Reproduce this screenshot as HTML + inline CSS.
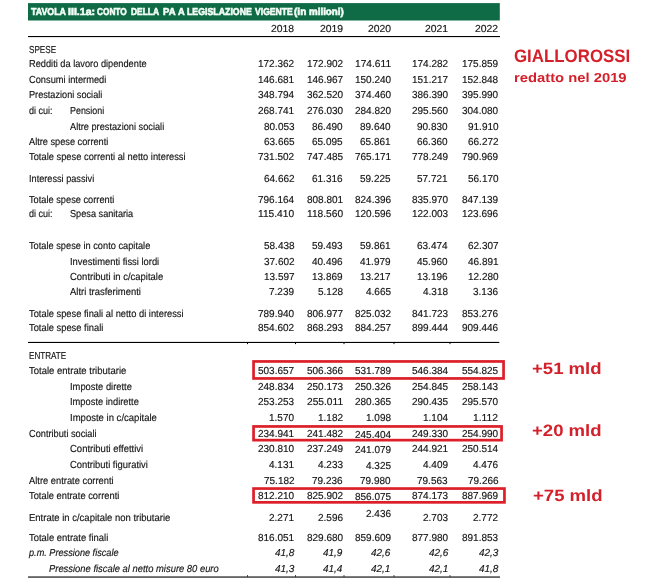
<!DOCTYPE html><html><head><meta charset='utf-8'><title>Tavola III.1a</title><style>

html,body{margin:0;padding:0;background:#fff;}
body{width:671px;height:579px;position:relative;overflow:hidden;font-family:"Liberation Sans",sans-serif;text-rendering:geometricPrecision;}
.t{position:absolute;white-space:nowrap;line-height:1;transform-origin:0 0;display:block;}
.b{font-weight:bold;}
.l,.li,.n,.ni{-webkit-text-stroke:0.16px currentColor;}
.b{-webkit-text-stroke:0;}
.h{-webkit-text-stroke:0.6px currentColor;}
.li,.ni{font-style:italic;}
.r{position:absolute;}
#w{position:absolute;left:0;top:0;width:671px;height:579px;will-change:transform;}

</style></head><body><div id='w'>
<svg class='r' style='left:0;top:0' width='671' height='579' viewBox='0 0 671 579'><rect x='28' y='3.1' width='471.8' height='17.4' fill='#0f6b46'/><rect x='28' y='36.0' width='472.0' height='1.1' fill='#000'/><rect x='28' y='341.9' width='471.3' height='1.1' fill='#000'/><rect x='28' y='576.5' width='472.0' height='1.1' fill='#000'/><rect x='247.0' y='342.9' width='1' height='1.2' fill='#000'/><rect x='247.0' y='575.3' width='1' height='1.3' fill='#000'/><rect x='295.0' y='342.9' width='1' height='1.2' fill='#000'/><rect x='295.0' y='575.3' width='1' height='1.3' fill='#000'/><rect x='343.5' y='342.9' width='1' height='1.2' fill='#000'/><rect x='343.5' y='575.3' width='1' height='1.3' fill='#000'/><rect x='393.5' y='342.9' width='1' height='1.2' fill='#000'/><rect x='393.5' y='575.3' width='1' height='1.3' fill='#000'/><rect x='449.5' y='342.9' width='1' height='1.2' fill='#000'/><rect x='449.5' y='575.3' width='1' height='1.3' fill='#000'/><rect x='253.55' y='361.45' width='250.00' height='17.00' fill='none' stroke='#dc1f28' stroke-width='2.7'/><rect x='253.55' y='426.45' width='248.00' height='13.70' fill='none' stroke='#dc1f28' stroke-width='2.7'/><rect x='253.55' y='488.55' width='250.90' height='13.80' fill='none' stroke='#dc1f28' stroke-width='2.7'/></svg>
<span class='t l' style='left:29.4px;top:46px;font-size:10.1px;color:#151515;transform:scaleX(0.8048);'>SPESE</span>
<span class='t l' style='left:29.4px;top:60px;font-size:10.1px;color:#151515;transform:scaleX(0.9151);'>Redditi da lavoro dipendente</span>
<span class='t n' style='left:258.3px;top:60px;font-size:10.1px;color:#151515;transform:scaleX(0.9893);'>172.362</span>
<span class='t n' style='left:306.5px;top:60px;font-size:10.1px;color:#151515;transform:scaleX(0.9893);'>172.902</span>
<span class='t n' style='left:354.7px;top:60px;font-size:10.1px;color:#151515;transform:scaleX(1.0101);'>174.611</span>
<span class='t n' style='left:411.9px;top:60px;font-size:10.1px;color:#151515;transform:scaleX(0.9893);'>174.282</span>
<span class='t n' style='left:462.3px;top:60px;font-size:10.1px;color:#151515;transform:scaleX(0.9893);'>175.859</span>
<span class='t l' style='left:29.4px;top:76px;font-size:10.1px;color:#151515;transform:scaleX(0.9185);'>Consumi intermedi</span>
<span class='t n' style='left:258.3px;top:76px;font-size:10.1px;color:#151515;transform:scaleX(0.9893);'>146.681</span>
<span class='t n' style='left:306.5px;top:76px;font-size:10.1px;color:#151515;transform:scaleX(0.9893);'>146.967</span>
<span class='t n' style='left:354.7px;top:76px;font-size:10.1px;color:#151515;transform:scaleX(0.9893);'>150.240</span>
<span class='t n' style='left:411.9px;top:76px;font-size:10.1px;color:#151515;transform:scaleX(0.9893);'>151.217</span>
<span class='t n' style='left:462.3px;top:76px;font-size:10.1px;color:#151515;transform:scaleX(0.9893);'>152.848</span>
<span class='t l' style='left:29.4px;top:91px;font-size:10.1px;color:#151515;transform:scaleX(0.9072);'>Prestazioni sociali</span>
<span class='t n' style='left:258.3px;top:91px;font-size:10.1px;color:#151515;transform:scaleX(0.9893);'>348.794</span>
<span class='t n' style='left:306.5px;top:91px;font-size:10.1px;color:#151515;transform:scaleX(0.9893);'>362.520</span>
<span class='t n' style='left:354.7px;top:91px;font-size:10.1px;color:#151515;transform:scaleX(0.9893);'>374.460</span>
<span class='t n' style='left:411.9px;top:91px;font-size:10.1px;color:#151515;transform:scaleX(0.9893);'>386.390</span>
<span class='t n' style='left:462.3px;top:91px;font-size:10.1px;color:#151515;transform:scaleX(0.9893);'>395.990</span>
<span class='t l' style='left:29.4px;top:107px;font-size:10.1px;color:#151515;transform:scaleX(0.8948);'>di cui:</span>
<span class='t l' style='left:69.8px;top:107px;font-size:10.1px;color:#151515;transform:scaleX(0.8829);'>Pensioni</span>
<span class='t n' style='left:258.3px;top:107px;font-size:10.1px;color:#151515;transform:scaleX(0.9893);'>268.741</span>
<span class='t n' style='left:306.5px;top:107px;font-size:10.1px;color:#151515;transform:scaleX(0.9893);'>276.030</span>
<span class='t n' style='left:354.7px;top:107px;font-size:10.1px;color:#151515;transform:scaleX(0.9893);'>284.820</span>
<span class='t n' style='left:411.9px;top:107px;font-size:10.1px;color:#151515;transform:scaleX(0.9893);'>295.560</span>
<span class='t n' style='left:462.3px;top:107px;font-size:10.1px;color:#151515;transform:scaleX(0.9893);'>304.080</span>
<span class='t l' style='left:69.8px;top:123px;font-size:10.1px;color:#151515;transform:scaleX(0.9125);'>Altre prestazioni sociali</span>
<span class='t n' style='left:263.8px;top:123px;font-size:10.1px;color:#151515;transform:scaleX(0.9895);'>80.053</span>
<span class='t n' style='left:312.1px;top:123px;font-size:10.1px;color:#151515;transform:scaleX(0.9895);'>86.490</span>
<span class='t n' style='left:360.2px;top:123px;font-size:10.1px;color:#151515;transform:scaleX(0.9895);'>89.640</span>
<span class='t n' style='left:417.4px;top:123px;font-size:10.1px;color:#151515;transform:scaleX(0.9895);'>90.830</span>
<span class='t n' style='left:467.8px;top:123px;font-size:10.1px;color:#151515;transform:scaleX(0.9895);'>91.910</span>
<span class='t l' style='left:29.4px;top:138px;font-size:10.1px;color:#151515;transform:scaleX(0.9118);'>Altre spese correnti</span>
<span class='t n' style='left:263.8px;top:138px;font-size:10.1px;color:#151515;transform:scaleX(0.9895);'>63.665</span>
<span class='t n' style='left:312.1px;top:138px;font-size:10.1px;color:#151515;transform:scaleX(0.9895);'>65.095</span>
<span class='t n' style='left:360.2px;top:138px;font-size:10.1px;color:#151515;transform:scaleX(0.9895);'>65.861</span>
<span class='t n' style='left:417.4px;top:138px;font-size:10.1px;color:#151515;transform:scaleX(0.9895);'>66.360</span>
<span class='t n' style='left:467.8px;top:138px;font-size:10.1px;color:#151515;transform:scaleX(0.9895);'>66.272</span>
<span class='t l' style='left:29.4px;top:153px;font-size:10.1px;color:#151515;transform:scaleX(0.9241);'>Totale spese correnti al netto interessi</span>
<span class='t n' style='left:258.3px;top:153px;font-size:10.1px;color:#151515;transform:scaleX(0.9893);'>731.502</span>
<span class='t n' style='left:306.5px;top:153px;font-size:10.1px;color:#151515;transform:scaleX(0.9893);'>747.485</span>
<span class='t n' style='left:354.7px;top:153px;font-size:10.1px;color:#151515;transform:scaleX(0.9893);'>765.171</span>
<span class='t n' style='left:411.9px;top:153px;font-size:10.1px;color:#151515;transform:scaleX(0.9893);'>778.249</span>
<span class='t n' style='left:462.3px;top:153px;font-size:10.1px;color:#151515;transform:scaleX(0.9893);'>790.969</span>
<span class='t l' style='left:29.4px;top:175px;font-size:10.1px;color:#151515;transform:scaleX(0.9079);'>Interessi passivi</span>
<span class='t n' style='left:263.8px;top:175px;font-size:10.1px;color:#151515;transform:scaleX(0.9895);'>64.662</span>
<span class='t n' style='left:312.1px;top:175px;font-size:10.1px;color:#151515;transform:scaleX(0.9895);'>61.316</span>
<span class='t n' style='left:360.2px;top:175px;font-size:10.1px;color:#151515;transform:scaleX(0.9895);'>59.225</span>
<span class='t n' style='left:417.4px;top:175px;font-size:10.1px;color:#151515;transform:scaleX(0.9895);'>57.721</span>
<span class='t n' style='left:467.8px;top:175px;font-size:10.1px;color:#151515;transform:scaleX(0.9895);'>56.170</span>
<span class='t l' style='left:29.4px;top:196px;font-size:10.1px;color:#151515;transform:scaleX(0.9158);'>Totale spese correnti</span>
<span class='t n' style='left:258.3px;top:196px;font-size:10.1px;color:#151515;transform:scaleX(0.9893);'>796.164</span>
<span class='t n' style='left:306.5px;top:196px;font-size:10.1px;color:#151515;transform:scaleX(0.9893);'>808.801</span>
<span class='t n' style='left:354.7px;top:196px;font-size:10.1px;color:#151515;transform:scaleX(0.9893);'>824.396</span>
<span class='t n' style='left:411.9px;top:196px;font-size:10.1px;color:#151515;transform:scaleX(0.9893);'>835.970</span>
<span class='t n' style='left:462.3px;top:196px;font-size:10.1px;color:#151515;transform:scaleX(0.9893);'>847.139</span>
<span class='t l' style='left:29.4px;top:210px;font-size:10.1px;color:#151515;transform:scaleX(0.8948);'>di cui:</span>
<span class='t l' style='left:69.8px;top:210px;font-size:10.1px;color:#151515;transform:scaleX(0.9083);'>Spesa sanitaria</span>
<span class='t n' style='left:258.3px;top:210px;font-size:10.1px;color:#151515;transform:scaleX(1.0101);'>115.410</span>
<span class='t n' style='left:306.5px;top:210px;font-size:10.1px;color:#151515;transform:scaleX(1.0101);'>118.560</span>
<span class='t n' style='left:354.7px;top:210px;font-size:10.1px;color:#151515;transform:scaleX(0.9893);'>120.596</span>
<span class='t n' style='left:411.9px;top:210px;font-size:10.1px;color:#151515;transform:scaleX(0.9893);'>122.003</span>
<span class='t n' style='left:462.3px;top:210px;font-size:10.1px;color:#151515;transform:scaleX(0.9893);'>123.696</span>
<span class='t l' style='left:29.4px;top:242px;font-size:10.1px;color:#151515;transform:scaleX(0.9159);'>Totale spese in conto capitale</span>
<span class='t n' style='left:263.8px;top:242px;font-size:10.1px;color:#151515;transform:scaleX(0.9895);'>58.438</span>
<span class='t n' style='left:312.1px;top:242px;font-size:10.1px;color:#151515;transform:scaleX(0.9895);'>59.493</span>
<span class='t n' style='left:360.2px;top:242px;font-size:10.1px;color:#151515;transform:scaleX(0.9895);'>59.861</span>
<span class='t n' style='left:417.4px;top:242px;font-size:10.1px;color:#151515;transform:scaleX(0.9895);'>63.474</span>
<span class='t n' style='left:467.8px;top:242px;font-size:10.1px;color:#151515;transform:scaleX(0.9895);'>62.307</span>
<span class='t l' style='left:69.8px;top:258px;font-size:10.1px;color:#151515;transform:scaleX(0.9299);'>Investimenti fissi lordi</span>
<span class='t n' style='left:263.8px;top:258px;font-size:10.1px;color:#151515;transform:scaleX(0.9895);'>37.602</span>
<span class='t n' style='left:312.1px;top:258px;font-size:10.1px;color:#151515;transform:scaleX(0.9895);'>40.496</span>
<span class='t n' style='left:360.2px;top:258px;font-size:10.1px;color:#151515;transform:scaleX(0.9895);'>41.979</span>
<span class='t n' style='left:417.4px;top:258px;font-size:10.1px;color:#151515;transform:scaleX(0.9895);'>45.960</span>
<span class='t n' style='left:467.8px;top:258px;font-size:10.1px;color:#151515;transform:scaleX(0.9895);'>46.891</span>
<span class='t l' style='left:69.8px;top:273px;font-size:10.1px;color:#151515;transform:scaleX(0.9385);'>Contributi in c/capitale</span>
<span class='t n' style='left:263.8px;top:273px;font-size:10.1px;color:#151515;transform:scaleX(0.9895);'>13.597</span>
<span class='t n' style='left:312.1px;top:273px;font-size:10.1px;color:#151515;transform:scaleX(0.9895);'>13.869</span>
<span class='t n' style='left:360.2px;top:273px;font-size:10.1px;color:#151515;transform:scaleX(0.9895);'>13.217</span>
<span class='t n' style='left:417.4px;top:273px;font-size:10.1px;color:#151515;transform:scaleX(0.9895);'>13.196</span>
<span class='t n' style='left:467.8px;top:273px;font-size:10.1px;color:#151515;transform:scaleX(0.9895);'>12.280</span>
<span class='t l' style='left:69.8px;top:288px;font-size:10.1px;color:#151515;transform:scaleX(0.9364);'>Altri trasferimenti</span>
<span class='t n' style='left:269.4px;top:288px;font-size:10.1px;color:#151515;transform:scaleX(0.9891);'>7.239</span>
<span class='t n' style='left:317.6px;top:288px;font-size:10.1px;color:#151515;transform:scaleX(0.9891);'>5.128</span>
<span class='t n' style='left:365.8px;top:288px;font-size:10.1px;color:#151515;transform:scaleX(0.9891);'>4.665</span>
<span class='t n' style='left:423.0px;top:288px;font-size:10.1px;color:#151515;transform:scaleX(0.9891);'>4.318</span>
<span class='t n' style='left:473.4px;top:288px;font-size:10.1px;color:#151515;transform:scaleX(0.9891);'>3.136</span>
<span class='t l' style='left:29.4px;top:310px;font-size:10.1px;color:#151515;transform:scaleX(0.9246);'>Totale spese finali al netto di interessi</span>
<span class='t n' style='left:258.3px;top:310px;font-size:10.1px;color:#151515;transform:scaleX(0.9893);'>789.940</span>
<span class='t n' style='left:306.5px;top:310px;font-size:10.1px;color:#151515;transform:scaleX(0.9893);'>806.977</span>
<span class='t n' style='left:354.7px;top:310px;font-size:10.1px;color:#151515;transform:scaleX(0.9893);'>825.032</span>
<span class='t n' style='left:411.9px;top:310px;font-size:10.1px;color:#151515;transform:scaleX(0.9893);'>841.723</span>
<span class='t n' style='left:462.3px;top:310px;font-size:10.1px;color:#151515;transform:scaleX(0.9893);'>853.276</span>
<span class='t l' style='left:29.4px;top:324px;font-size:10.1px;color:#151515;transform:scaleX(0.9259);'>Totale spese finali</span>
<span class='t n' style='left:258.3px;top:324px;font-size:10.1px;color:#151515;transform:scaleX(0.9893);'>854.602</span>
<span class='t n' style='left:306.5px;top:324px;font-size:10.1px;color:#151515;transform:scaleX(0.9893);'>868.293</span>
<span class='t n' style='left:354.7px;top:324px;font-size:10.1px;color:#151515;transform:scaleX(0.9893);'>884.257</span>
<span class='t n' style='left:411.9px;top:324px;font-size:10.1px;color:#151515;transform:scaleX(0.9893);'>899.444</span>
<span class='t n' style='left:462.3px;top:324px;font-size:10.1px;color:#151515;transform:scaleX(0.9893);'>909.446</span>
<span class='t l' style='left:29.4px;top:352px;font-size:10.1px;color:#151515;transform:scaleX(0.8024);'>ENTRATE</span>
<span class='t l' style='left:29.4px;top:367px;font-size:10.1px;color:#151515;transform:scaleX(0.9424);'>Totale entrate tributarie</span>
<span class='t n' style='left:258.3px;top:367px;font-size:10.1px;color:#151515;transform:scaleX(0.9893);'>503.657</span>
<span class='t n' style='left:306.5px;top:367px;font-size:10.1px;color:#151515;transform:scaleX(0.9893);'>506.366</span>
<span class='t n' style='left:354.7px;top:367px;font-size:10.1px;color:#151515;transform:scaleX(0.9893);'>531.789</span>
<span class='t n' style='left:411.9px;top:367px;font-size:10.1px;color:#151515;transform:scaleX(0.9893);'>546.384</span>
<span class='t n' style='left:462.3px;top:367px;font-size:10.1px;color:#151515;transform:scaleX(0.9893);'>554.825</span>
<span class='t l' style='left:69.8px;top:383px;font-size:10.1px;color:#151515;transform:scaleX(0.9271);'>Imposte dirette</span>
<span class='t n' style='left:258.3px;top:383px;font-size:10.1px;color:#151515;transform:scaleX(0.9893);'>248.834</span>
<span class='t n' style='left:306.5px;top:383px;font-size:10.1px;color:#151515;transform:scaleX(0.9893);'>250.173</span>
<span class='t n' style='left:354.7px;top:383px;font-size:10.1px;color:#151515;transform:scaleX(0.9893);'>250.326</span>
<span class='t n' style='left:411.9px;top:383px;font-size:10.1px;color:#151515;transform:scaleX(0.9893);'>254.845</span>
<span class='t n' style='left:462.3px;top:383px;font-size:10.1px;color:#151515;transform:scaleX(0.9893);'>258.143</span>
<span class='t l' style='left:69.8px;top:398px;font-size:10.1px;color:#151515;transform:scaleX(0.9233);'>Imposte indirette</span>
<span class='t n' style='left:258.3px;top:398px;font-size:10.1px;color:#151515;transform:scaleX(0.9893);'>253.253</span>
<span class='t n' style='left:306.5px;top:398px;font-size:10.1px;color:#151515;transform:scaleX(1.0101);'>255.011</span>
<span class='t n' style='left:354.7px;top:398px;font-size:10.1px;color:#151515;transform:scaleX(0.9893);'>280.365</span>
<span class='t n' style='left:411.9px;top:398px;font-size:10.1px;color:#151515;transform:scaleX(0.9893);'>290.435</span>
<span class='t n' style='left:462.3px;top:398px;font-size:10.1px;color:#151515;transform:scaleX(0.9893);'>295.570</span>
<span class='t l' style='left:69.8px;top:414px;font-size:10.1px;color:#151515;transform:scaleX(0.9444);'>Imposte in c/capitale</span>
<span class='t n' style='left:269.4px;top:414px;font-size:10.1px;color:#151515;transform:scaleX(0.9891);'>1.570</span>
<span class='t n' style='left:317.6px;top:414px;font-size:10.1px;color:#151515;transform:scaleX(0.9891);'>1.182</span>
<span class='t n' style='left:365.8px;top:414px;font-size:10.1px;color:#151515;transform:scaleX(0.9891);'>1.098</span>
<span class='t n' style='left:423.0px;top:414px;font-size:10.1px;color:#151515;transform:scaleX(0.9891);'>1.104</span>
<span class='t n' style='left:473.4px;top:414px;font-size:10.1px;color:#151515;transform:scaleX(1.0193);'>1.112</span>
<span class='t l' style='left:29.4px;top:430px;font-size:10.1px;color:#151515;transform:scaleX(0.9127);'>Contributi sociali</span>
<span class='t n' style='left:258.3px;top:430px;font-size:10.1px;color:#151515;transform:scaleX(0.9893);'>234.941</span>
<span class='t n' style='left:306.5px;top:430px;font-size:10.1px;color:#151515;transform:scaleX(0.9893);'>241.482</span>
<span class='t n' style='left:354.7px;top:431px;font-size:10.1px;color:#151515;transform:scaleX(0.9893);'>245.404</span>
<span class='t n' style='left:411.9px;top:430px;font-size:10.1px;color:#151515;transform:scaleX(0.9893);'>249.330</span>
<span class='t n' style='left:462.3px;top:430px;font-size:10.1px;color:#151515;transform:scaleX(0.9893);'>254.990</span>
<span class='t l' style='left:69.8px;top:445px;font-size:10.1px;color:#151515;transform:scaleX(0.9407);'>Contributi effettivi</span>
<span class='t n' style='left:258.3px;top:445px;font-size:10.1px;color:#151515;transform:scaleX(0.9893);'>230.810</span>
<span class='t n' style='left:306.5px;top:445px;font-size:10.1px;color:#151515;transform:scaleX(0.9893);'>237.249</span>
<span class='t n' style='left:354.7px;top:446px;font-size:10.1px;color:#151515;transform:scaleX(0.9893);'>241.079</span>
<span class='t n' style='left:411.9px;top:445px;font-size:10.1px;color:#151515;transform:scaleX(0.9893);'>244.921</span>
<span class='t n' style='left:462.3px;top:445px;font-size:10.1px;color:#151515;transform:scaleX(0.9893);'>250.514</span>
<span class='t l' style='left:69.8px;top:461px;font-size:10.1px;color:#151515;transform:scaleX(0.9319);'>Contributi figurativi</span>
<span class='t n' style='left:269.4px;top:461px;font-size:10.1px;color:#151515;transform:scaleX(0.9891);'>4.131</span>
<span class='t n' style='left:317.6px;top:461px;font-size:10.1px;color:#151515;transform:scaleX(0.9891);'>4.233</span>
<span class='t n' style='left:365.8px;top:462px;font-size:10.1px;color:#151515;transform:scaleX(0.9891);'>4.325</span>
<span class='t n' style='left:423.0px;top:461px;font-size:10.1px;color:#151515;transform:scaleX(0.9891);'>4.409</span>
<span class='t n' style='left:473.4px;top:461px;font-size:10.1px;color:#151515;transform:scaleX(0.9891);'>4.476</span>
<span class='t l' style='left:29.4px;top:477px;font-size:10.1px;color:#151515;transform:scaleX(0.9251);'>Altre entrate correnti</span>
<span class='t n' style='left:263.8px;top:477px;font-size:10.1px;color:#151515;transform:scaleX(0.9895);'>75.182</span>
<span class='t n' style='left:312.1px;top:477px;font-size:10.1px;color:#151515;transform:scaleX(0.9895);'>79.236</span>
<span class='t n' style='left:360.2px;top:477px;font-size:10.1px;color:#151515;transform:scaleX(0.9895);'>79.980</span>
<span class='t n' style='left:417.4px;top:477px;font-size:10.1px;color:#151515;transform:scaleX(0.9895);'>79.563</span>
<span class='t n' style='left:467.8px;top:477px;font-size:10.1px;color:#151515;transform:scaleX(0.9895);'>79.266</span>
<span class='t l' style='left:29.4px;top:492px;font-size:10.1px;color:#151515;transform:scaleX(0.9250);'>Totale entrate correnti</span>
<span class='t n' style='left:258.3px;top:492px;font-size:10.1px;color:#151515;transform:scaleX(0.9893);'>812.210</span>
<span class='t n' style='left:306.5px;top:492px;font-size:10.1px;color:#151515;transform:scaleX(0.9893);'>825.902</span>
<span class='t n' style='left:354.7px;top:493px;font-size:10.1px;color:#151515;transform:scaleX(0.9893);'>856.075</span>
<span class='t n' style='left:411.9px;top:492px;font-size:10.1px;color:#151515;transform:scaleX(0.9893);'>874.173</span>
<span class='t n' style='left:462.3px;top:492px;font-size:10.1px;color:#151515;transform:scaleX(0.9893);'>887.969</span>
<span class='t l' style='left:29.4px;top:514px;font-size:10.1px;color:#151515;transform:scaleX(0.9397);'>Entrate in c/capitale non tributarie</span>
<span class='t n' style='left:269.4px;top:514px;font-size:10.1px;color:#151515;transform:scaleX(0.9891);'>2.271</span>
<span class='t n' style='left:317.6px;top:514px;font-size:10.1px;color:#151515;transform:scaleX(0.9891);'>2.596</span>
<span class='t n' style='left:365.8px;top:510px;font-size:10.1px;color:#151515;transform:scaleX(0.9891);'>2.436</span>
<span class='t n' style='left:423.0px;top:514px;font-size:10.1px;color:#151515;transform:scaleX(0.9891);'>2.703</span>
<span class='t n' style='left:473.4px;top:514px;font-size:10.1px;color:#151515;transform:scaleX(0.9891);'>2.772</span>
<span class='t l' style='left:29.4px;top:534px;font-size:10.1px;color:#151515;transform:scaleX(0.9359);'>Totale entrate finali</span>
<span class='t n' style='left:258.3px;top:534px;font-size:10.1px;color:#151515;transform:scaleX(0.9893);'>816.051</span>
<span class='t n' style='left:306.5px;top:534px;font-size:10.1px;color:#151515;transform:scaleX(0.9893);'>829.680</span>
<span class='t n' style='left:354.7px;top:534px;font-size:10.1px;color:#151515;transform:scaleX(0.9893);'>859.609</span>
<span class='t n' style='left:411.9px;top:534px;font-size:10.1px;color:#151515;transform:scaleX(0.9893);'>877.980</span>
<span class='t n' style='left:462.3px;top:534px;font-size:10.1px;color:#151515;transform:scaleX(0.9893);'>891.853</span>
<span class='t li' style='left:29.4px;top:549px;font-size:10.1px;color:#151515;transform:scaleX(0.9073);'>p.m. Pressione fiscale</span>
<span class='t ni' style='left:275.0px;top:549px;font-size:10.1px;color:#151515;transform:scaleX(0.9885);'>41,8</span>
<span class='t ni' style='left:323.2px;top:549px;font-size:10.1px;color:#151515;transform:scaleX(0.9885);'>41,9</span>
<span class='t ni' style='left:371.4px;top:549px;font-size:10.1px;color:#151515;transform:scaleX(0.9885);'>42,6</span>
<span class='t ni' style='left:428.6px;top:549px;font-size:10.1px;color:#151515;transform:scaleX(0.9885);'>42,6</span>
<span class='t ni' style='left:479.0px;top:549px;font-size:10.1px;color:#151515;transform:scaleX(0.9885);'>42,3</span>
<span class='t li' style='left:48.6px;top:565px;font-size:10.1px;color:#151515;transform:scaleX(0.9307);'>Pressione fiscale al netto misure 80 euro</span>
<span class='t ni' style='left:275.0px;top:565px;font-size:10.1px;color:#151515;transform:scaleX(0.9885);'>41,3</span>
<span class='t ni' style='left:323.2px;top:565px;font-size:10.1px;color:#151515;transform:scaleX(0.9885);'>41,4</span>
<span class='t ni' style='left:371.4px;top:565px;font-size:10.1px;color:#151515;transform:scaleX(0.9885);'>42,1</span>
<span class='t ni' style='left:428.6px;top:565px;font-size:10.1px;color:#151515;transform:scaleX(0.9885);'>42,1</span>
<span class='t ni' style='left:479.0px;top:565px;font-size:10.1px;color:#151515;transform:scaleX(0.9885);'>41,8</span>
<span class='t n' style='left:271.3px;top:25px;font-size:10.1px;color:#151515;transform:scaleX(1.0281);'>2018</span>
<span class='t n' style='left:319.5px;top:25px;font-size:10.1px;color:#151515;transform:scaleX(1.0281);'>2019</span>
<span class='t n' style='left:367.7px;top:25px;font-size:10.1px;color:#151515;transform:scaleX(1.0281);'>2020</span>
<span class='t n' style='left:424.9px;top:25px;font-size:10.1px;color:#151515;transform:scaleX(1.0281);'>2021</span>
<span class='t n' style='left:475.3px;top:25px;font-size:10.1px;color:#151515;transform:scaleX(1.0281);'>2022</span>
<span class='t b h' style='left:30.5px;top:8px;font-size:10.1px;color:#f4fff8;transform:scaleX(0.8750);'>TAVOLA</span>
<span class='t b h' style='left:67.7px;top:8px;font-size:10.1px;color:#f4fff8;transform:scaleX(1.0499);'>III.1a:</span>
<span class='t b h' style='left:97.2px;top:8px;font-size:10.1px;color:#f4fff8;transform:scaleX(0.8190);'>CONTO</span>
<span class='t b h' style='left:131.4px;top:8px;font-size:10.1px;color:#f4fff8;transform:scaleX(0.8349);'>DELLA</span>
<span class='t b h' style='left:162.7px;top:8px;font-size:10.1px;color:#f4fff8;transform:scaleX(0.9412);'>PA</span>
<span class='t b h' style='left:177.9px;top:8px;font-size:10.1px;color:#f4fff8;transform:scaleX(0.9182);'>A</span>
<span class='t b h' style='left:186.5px;top:8px;font-size:10.1px;color:#f4fff8;transform:scaleX(0.8700);'>LEGISLAZIONE</span>
<span class='t b h' style='left:254.6px;top:8px;font-size:10.1px;color:#f4fff8;transform:scaleX(0.8530);'>VIGENTE</span>
<span class='t b h' style='left:294.2px;top:8px;font-size:10.1px;color:#f4fff8;transform:scaleX(0.9965);'>(in</span>
<span class='t b h' style='left:308.5px;top:8px;font-size:10.1px;color:#f4fff8;transform:scaleX(0.9696);'>milioni)</span>
<span class='t b' style='left:513.8px;top:47px;font-size:18px;color:#d4202a;transform:scaleX(0.9370);'>GIALLOROSSI</span>
<span class='t b' style='left:513.6px;top:71px;font-size:13px;color:#d4202a;transform:scaleX(1.1374);'>redatto nel 2019</span>
<span class='t b' style='left:532.1px;top:361px;font-size:16.4px;color:#d4202a;transform:scaleX(1.1317);'>+51 mld</span>
<span class='t b' style='left:532.1px;top:423px;font-size:16.4px;color:#d4202a;transform:scaleX(1.1317);'>+20 mld</span>
<span class='t b' style='left:533.1px;top:488px;font-size:16.4px;color:#d4202a;transform:scaleX(1.1317);'>+75 mld</span>
</div></body></html>
